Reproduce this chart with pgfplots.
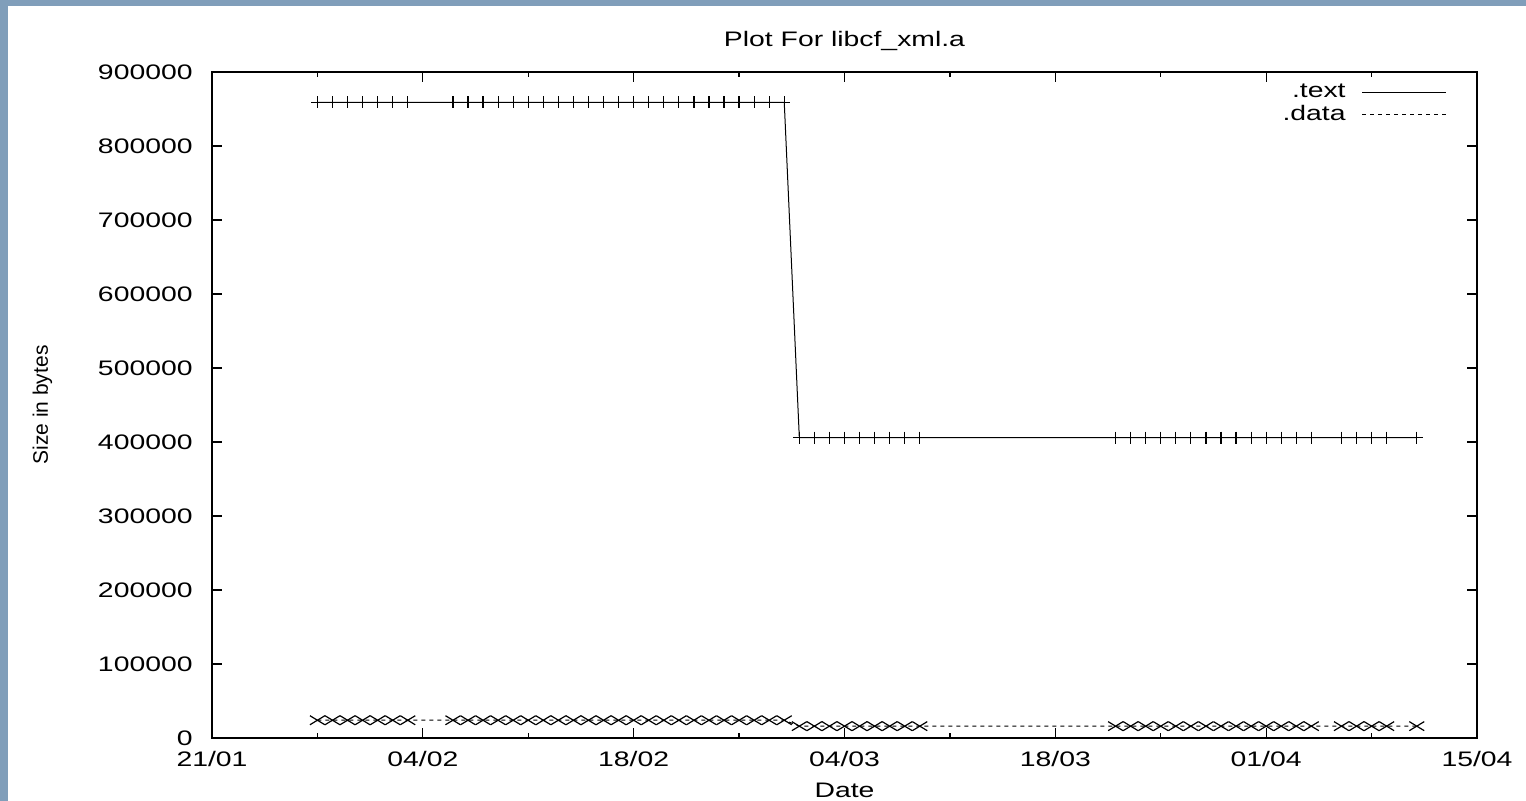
\documentclass[border=0pt]{standalone}
\usepackage{fontspec}
\setmainfont{Liberation Sans}[FakeStretch=1.35]
\newfontfamily\plainsf{Liberation Sans}
\usepackage{pgfplots}
\pgfplotsset{compat=1.18}
\definecolor{framebg}{RGB}{128,158,186}

\begin{document}
\fontsize{10.5pt}{12.6pt}\selectfont
\begin{tikzpicture}
% page background with the blue-grey frame on the left and top
\fill[framebg] (-106pt,-31.5pt) rectangle (657pt,369pt);
\fill[white] (-102pt,-31.5pt) rectangle (657pt,366pt);
\begin{axis}[
  at={(0,0)}, anchor=south west,
  scale only axis, width=632.5pt, height=333pt,
  xmin=0, xmax=84, ymin=0, ymax=900000,
  xtick={0,14,...,84},
  xticklabels={21/01,04/02,18/02,04/03,18/03,01/04,15/04},
  minor xtick={7,21,...,77},
  ytick={0,100000,...,900000},
  scaled y ticks=false,
  yticklabel style={/pgf/number format/fixed, /pgf/number format/1000 sep={},
    /pgf/number format/assume math mode=true, xshift=-6pt},
  xticklabel style={yshift=-3pt},
  xtick pos=both, ytick pos=both,
  xticklabel pos=lower, yticklabel pos=left,
  tick align=inside,
  major tick length=5pt, minor tick length=2.5pt,
  tick style={black, line width=0.6pt},
  axis line style={black, line width=1pt},
  title={Plot For libcf\_xml.a},
  title style={at={(axis description cs:0.5,1)}, anchor=south, yshift=1pt},
  xlabel={Date},
  xlabel style={at={(axis description cs:0.5,0)}, anchor=north, yshift=-19pt},
  ylabel={\plainsf Size in bytes},
  ylabel style={at={(axis description cs:-0.134,0.5)}, anchor=center},
  legend style={at={(axis description cs:1,1)}, anchor=north east,
    draw=none, fill=none, inner sep=0pt, xshift=-15pt, yshift=-5pt,
    column sep=7pt, row sep=0pt, nodes={inner sep=1pt}},
  legend cell align=right,
  legend plot pos=right,
  legend image code/.code={\draw[#1] (0pt,0pt) -- (42pt,0pt);},
]
\addplot[black, line width=0.5pt, mark=+, mark size=3pt,
         mark options={line width=0.6pt}]
  coordinates {
    (7,859000) (8,859000) (9,859000) (10,859000) (11,859000) (12,859000) (13,859000)
    (16,859000) (17,859000) (18,859000) (19,859000) (20,859000) (21,859000)
    (22,859000) (23,859000) (24,859000) (25,859000) (26,859000) (27,859000)
    (28,859000) (29,859000) (30,859000) (31,859000) (32,859000) (33,859000)
    (34,859000) (35,859000) (36,859000) (37,859000) (38,859000)
    (39,406000) (40,406000) (41,406000) (42,406000) (43,406000) (44,406000)
    (45,406000) (46,406000) (47,406000)
    (60,406000) (61,406000) (62,406000) (63,406000) (64,406000) (65,406000)
    (66,406000) (67,406000) (68,406000) (69,406000) (70,406000) (71,406000)
    (72,406000) (73,406000)
    (75,406000) (76,406000) (77,406000) (78,406000) (80,406000)
  };
\addlegendentry{.text}
\addplot[black, line width=0.5pt, dash pattern=on 2pt off 2pt,
         mark=x, mark size=3.2pt, mark options={solid, xscale=1.65, line width=0.6pt}]
  coordinates {
    (7,24000) (8,24000) (9,24000) (10,24000) (11,24000) (12,24000) (13,24000)
    (16,24000) (17,24000) (18,24000) (19,24000) (20,24000) (21,24000)
    (22,24000) (23,24000) (24,24000) (25,24000) (26,24000) (27,24000)
    (28,24000) (29,24000) (30,24000) (31,24000) (32,24000) (33,24000)
    (34,24000) (35,24000) (36,24000) (37,24000) (38,24000)
    (39,16000) (40,16000) (41,16000) (42,16000) (43,16000) (44,16000)
    (45,16000) (46,16000) (47,16000)
    (60,16000) (61,16000) (62,16000) (63,16000) (64,16000) (65,16000)
    (66,16000) (67,16000) (68,16000) (69,16000) (70,16000) (71,16000)
    (72,16000) (73,16000)
    (75,16000) (76,16000) (77,16000) (78,16000) (80,16000)
  };
\addlegendentry{.data}
\end{axis}
\pgfresetboundingbox
\useasboundingbox (-106pt,-31.5pt) rectangle (657pt,369pt);
\end{tikzpicture}
\end{document}
